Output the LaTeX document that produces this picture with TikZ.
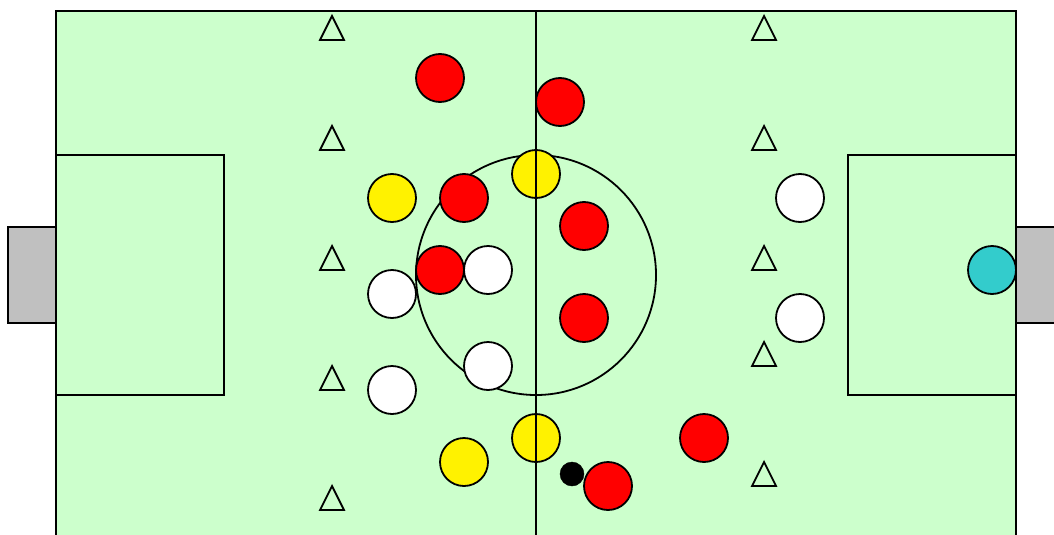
\documentclass[tikz,border=0pt]{standalone}
\usetikzlibrary{shapes.geometric}
\definecolor{pitch}{HTML}{CCFFCC}
\definecolor{goalgray}{HTML}{C0C0C0}
\definecolor{keeper}{HTML}{33CCCC}
\begin{document}
\begin{tikzpicture}[x=1pt,y=-1pt,
  line/.style={draw=black,line width=1.8pt},
  player/.style={circle,draw=black,line width=1.8pt,minimum size=48pt,inner sep=0pt},
  red/.style={player,fill=red},
  yel/.style={player,fill=yellow},
  wht/.style={player,fill=white},
  gk/.style={player,fill=keeper},
  ballst/.style={circle,fill=black,draw=black,minimum size=24pt,inner sep=0pt},
  cone/.style={draw=black,line width=1.8pt,line join=miter}]
\useasboundingbox (0,0) rectangle (1054,535);
\clip (0,0) rectangle (1054,535);
% goals
\filldraw[fill=goalgray,line width=1.8pt] (8,227) rectangle (56,323);
\filldraw[fill=goalgray,line width=1.8pt] (1016,227) rectangle (1070,323);
% pitch
\filldraw[fill=pitch,line width=1.8pt] (56,11) rectangle (1016,560);
\draw[line] (56,155) rectangle (224,395);
\draw[line] (848,155) rectangle (1016,395);
\draw[line] (536,275) circle[radius=120];
% cones
\foreach \cx/\cy in {332/28,332/138,332/258,332/378,332/498,764/28,764/138,764/258,764/354,764/474}
  \draw[cone] (\cx,\cy-12) -- (\cx-12,\cy+12) -- (\cx+12,\cy+12) -- cycle;
% red team
\node[red] (r1) at (440,78) {};
\node[red] (r2) at (560,102) {};
\node[red] (r3) at (464,198) {};
\node[red] (r4) at (584,226) {};
\node[red] (r5) at (440,270) {};
\node[red] (r6) at (584,318) {};
\node[red] (r7) at (704,438) {};
\node[red] (r8) at (608,486) {};
% yellow
\node[yel] (y1) at (392,198) {};
\node[yel] (y2) at (536,174) {};
\node[yel] (y3) at (536,438) {};
\node[yel] (y4) at (464,462) {};
% white
\node[wht] (w1) at (488,270) {};
\node[wht] (w2) at (392,294) {};
\node[wht] (w3) at (488,366) {};
\node[wht] (w4) at (392,390) {};
\node[wht] (w5) at (800,198) {};
\node[wht] (w6) at (800,318) {};
% keeper
\node[gk] (k1) at (992,270) {};
% ball
\node[ballst] (ball) at (572,474) {};
% halfway line
\draw[line] (536,11) -- (536,560);
\draw[line] (56,11) -- (1016,11);
\end{tikzpicture}
\end{document}
